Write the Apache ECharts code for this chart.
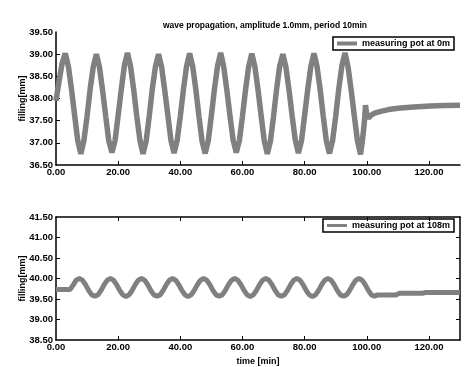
<!DOCTYPE html>
<html>
<head>
<meta charset="utf-8">
<script src="https://cdn.jsdelivr.net/npm/echarts@6/dist/echarts.min.js"></script>
<style>html,body{margin:0;padding:0;background:#fff}#c{width:465px;height:367px}</style>
</head>
<body>
<div id="c"></div>
<script>
var titleText = 'wave propagation, amplitude 1.0mm, period 10min';
var seriesTop = 'measuring pot at 0m';
var seriesBottom = 'measuring pot at 108m';
var xTickValues = [0, 20, 40, 60, 80, 100, 120];
var yTopTicks = [36.5, 37.0, 37.5, 38.0, 38.5, 39.0, 39.5];
var yBottomTicks = [38.5, 39.0, 39.5, 40.0, 40.5, 41.0, 41.5];

var topTime = [
  0,1,2,3,4,5,6,7,8,9,
  10,11,12,13,14,15,16,17,18,19,
  20,21,22,23,24,25,26,27,28,29,
  30,31,32,33,34,35,36,37,38,39,
  40,41,42,43,44,45,46,47,48,49,
  50,51,52,53,54,55,56,57,58,59,
  60,61,62,63,64,65,66,67,68,69,
  70,71,72,73,74,75,76,77,78,79,
  80,81,82,83,84,85,86,87,88,89,
  90,91,92,93,94,95,96,97,98,
  98.6,99.2,99.6,100,100.6,101.3,102.5,104.5,107,110,115,120.6,125,130
];
var topLevel = [
  37.95,38.40,38.80,39.02,38.72,38.20,37.62,37.05,36.75,37.06,
  37.60,38.22,38.72,39.00,38.70,38.18,37.60,37.04,36.78,37.05,
  37.62,38.20,38.74,39.03,38.72,38.20,37.60,37.06,36.75,37.04,
  37.60,38.22,38.72,39.00,38.70,38.18,37.62,37.05,36.77,37.06,
  37.60,38.20,38.72,39.02,38.72,38.20,37.60,37.04,36.76,37.05,
  37.62,38.22,38.74,39.03,38.70,38.18,37.60,37.06,36.78,37.05,
  37.60,38.20,38.72,39.01,38.72,38.20,37.62,37.05,36.75,37.04,
  37.60,38.22,38.74,39.00,38.70,38.18,37.60,37.06,36.77,37.05,
  37.62,38.20,38.72,39.02,38.72,38.20,37.60,37.04,36.76,37.05,
  37.60,38.22,38.74,39.03,38.70,38.18,37.60,37.05,36.74,
  37.05,37.45,37.85,37.62,37.56,37.62,37.67,37.71,37.75,37.78,37.81,37.83,37.84,37.85
];

var bottomTime = [
  0,4.5,5.5,6.5,
  7.5,8.5,9.5,10.5,11.5,12.5,13.5,14.5,15.5,16.5,
  17.5,18.5,19.5,20.5,21.5,22.5,23.5,24.5,25.5,26.5,
  27.5,28.5,29.5,30.5,31.5,32.5,33.5,34.5,35.5,36.5,
  37.5,38.5,39.5,40.5,41.5,42.5,43.5,44.5,45.5,46.5,
  47.5,48.5,49.5,50.5,51.5,52.5,53.5,54.5,55.5,56.5,
  57.5,58.5,59.5,60.5,61.5,62.5,63.5,64.5,65.5,66.5,
  67.5,68.5,69.5,70.5,71.5,72.5,73.5,74.5,75.5,76.5,
  77.5,78.5,79.5,80.5,81.5,82.5,83.5,84.5,85.5,86.5,
  87.5,88.5,89.5,90.5,91.5,92.5,93.5,94.5,95.5,96.5,
  97.5,98.5,99.5,100.5,101.5,102.5,
  103.5,109.5,110.5,118,119,130
];
var bottomLevel = [
  39.73,39.73,39.84,39.96,
  40.00,39.96,39.85,39.71,39.60,39.57,39.60,39.71,39.85,39.96,
  40.00,39.96,39.85,39.71,39.60,39.56,39.60,39.71,39.85,39.96,
  40.00,39.96,39.85,39.71,39.60,39.57,39.60,39.71,39.85,39.96,
  40.00,39.96,39.85,39.71,39.60,39.56,39.60,39.71,39.85,39.96,
  40.00,39.96,39.85,39.71,39.60,39.57,39.60,39.71,39.85,39.96,
  40.00,39.96,39.85,39.71,39.60,39.56,39.60,39.71,39.85,39.96,
  40.00,39.96,39.85,39.71,39.60,39.57,39.60,39.71,39.85,39.96,
  40.00,39.96,39.85,39.71,39.60,39.56,39.60,39.71,39.85,39.96,
  40.00,39.96,39.85,39.71,39.60,39.57,39.60,39.71,39.85,39.96,
  40.00,39.96,39.85,39.71,39.60,39.57,
  39.60,39.60,39.64,39.64,39.66,39.66
];

function zip(a, b) { return a.map(function (v, i) { return [v, b[i]]; }); }

var FONT = "'Liberation Sans Narrow', 'Liberation Sans', Arial, sans-serif";
var GREY = '#808080';
var lab = { color: '#000', fontFamily: FONT, fontSize: 9.5, fontWeight: 'bold' };
var small = { color: '#000', fontFamily: FONT, fontSize: 9, fontWeight: 'bold' };
function fmt(v) { return Number(v).toFixed(2); }

var axLine = { show: true, onZero: false, lineStyle: { color: '#000', width: 1.5 } };
var tick = { show: true, inside: true, length: 4, lineStyle: { color: '#000', width: 1 } };

function xAx(grid, pos, showLabel, name) {
  return {
    type: 'value', gridIndex: grid, position: pos, min: 0, max: 130, interval: 20,
    axisLine: axLine,
    axisTick: Object.assign({}, tick, { customValues: xTickValues.slice(1) }),
    axisLabel: Object.assign({}, lab, { show: showLabel, margin: 2, formatter: fmt, customValues: xTickValues }),
    splitLine: { show: false },
    name: name || '', nameLocation: 'middle', nameGap: 17, nameMoveOverlap: false,
    nameTextStyle: small
  };
}
function yAx(grid, pos, showLabel, mn, mx, ticks, name) {
  return {
    type: 'value', gridIndex: grid, position: pos, min: mn, max: mx, interval: 0.5,
    axisLine: axLine,
    axisTick: Object.assign({}, tick, { customValues: ticks.slice(1, ticks.length - 1) }),
    axisLabel: Object.assign({}, lab, { show: showLabel, margin: 3, formatter: fmt, customValues: ticks }),
    splitLine: { show: false },
    name: name || '', nameLocation: 'middle', nameGap: 29, nameRotate: 90, nameMoveOverlap: false,
    nameTextStyle: small
  };
}

var chart = echarts.init(document.getElementById('c'), null, { renderer: 'canvas' });
chart.setOption({
  animation: false,
  backgroundColor: '#fff',
  title: {
    text: titleText, left: 260, top: 16, textAlign: 'center',
    textStyle: { color: '#000', fontFamily: FONT, fontSize: 8.5, fontWeight: 'bold' }
  },
  grid: [
    { left: 56, top: 32, width: 404, height: 133 },
    { left: 56, top: 217, width: 404, height: 132 }
  ],
  legend: [
    {
      data: [seriesTop], right: 11, top: 37, icon: 'rect', itemWidth: 20, itemHeight: 4,
      borderColor: '#000', borderWidth: 1.5, padding: [2, 4, 2, 4],
      textStyle: small, itemStyle: { color: GREY }
    },
    {
      data: [seriesBottom], right: 11, top: 219, icon: 'rect', itemWidth: 20, itemHeight: 3,
      borderColor: '#000', borderWidth: 1.5, padding: [2, 4, 2, 4],
      textStyle: small, itemStyle: { color: GREY }
    }
  ],
  xAxis: [
    xAx(0, 'bottom', true),
    xAx(1, 'bottom', true, 'time [min]'),
    xAx(1, 'top', false)
  ],
  yAxis: [
    yAx(0, 'left', true, 36.5, 39.5, yTopTicks, 'filling[mm]'),
    yAx(1, 'left', true, 38.5, 41.5, yBottomTicks, 'filling[mm]'),
    yAx(1, 'right', false, 38.5, 41.5, yBottomTicks)
  ],
  series: [
    {
      name: seriesTop, type: 'line', xAxisIndex: 0, yAxisIndex: 0, symbol: 'none',
      data: zip(topTime, topLevel), lineStyle: { color: GREY, width: 5.5 }, itemStyle: { color: GREY }
    },
    {
      name: seriesBottom, type: 'line', xAxisIndex: 1, yAxisIndex: 1, symbol: 'none',
      data: zip(bottomTime, bottomLevel), lineStyle: { color: GREY, width: 5 }, itemStyle: { color: GREY }
    }
  ]
});
</script>
</body>
</html>
